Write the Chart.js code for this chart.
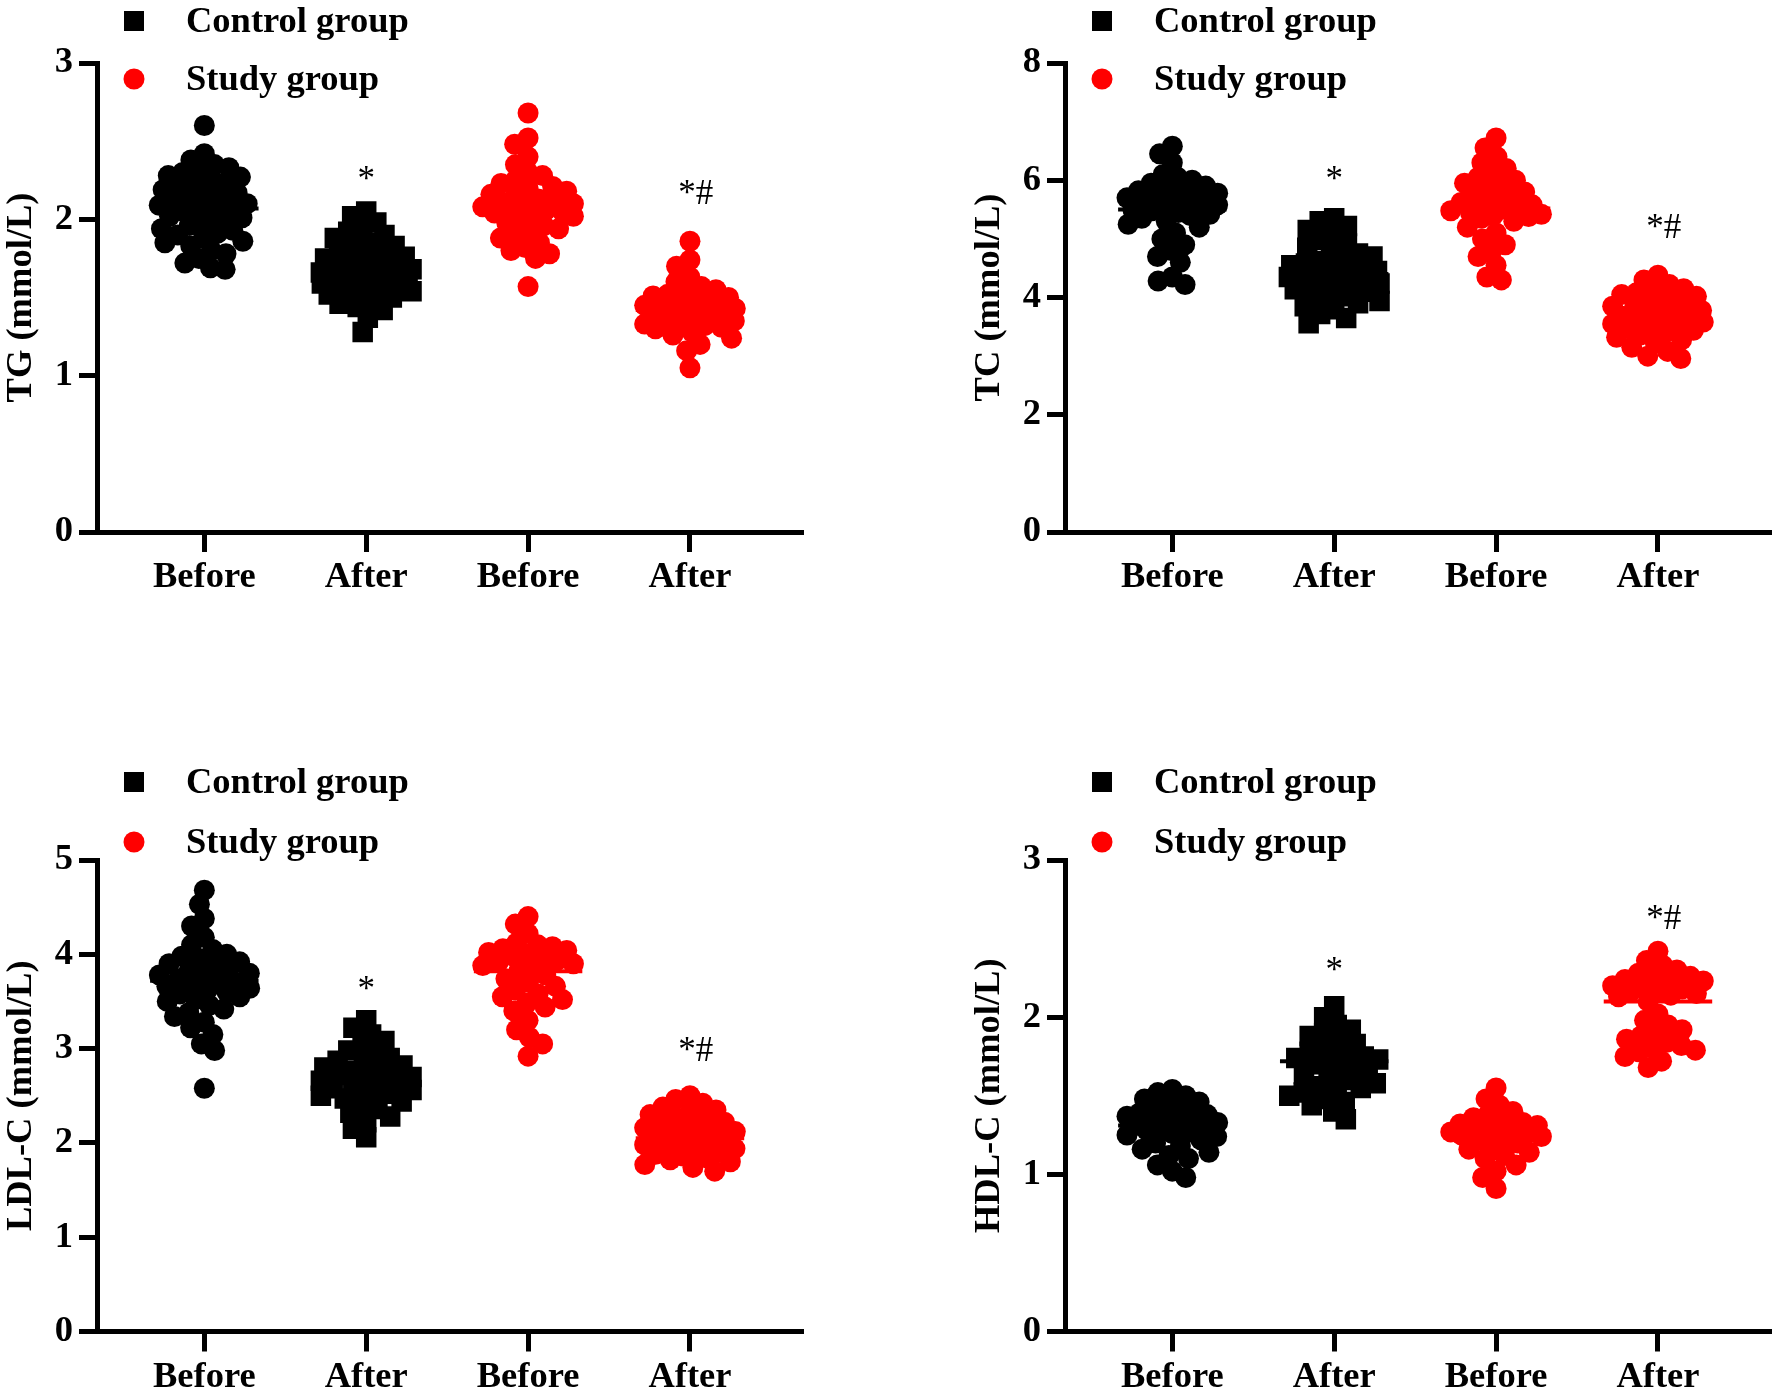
<!DOCTYPE html>
<html>
<head>
<meta charset="utf-8">
<script src="https://cdn.jsdelivr.net/npm/chart.js@4.4.0/dist/chart.umd.min.js"></script>
<style>
html,body{margin:0;padding:0;background:#fff;width:1784px;height:1394px;overflow:hidden;position:relative}
canvas{position:absolute}
</style>
</head>
<body>
<canvas id="pTG" width="816" height="697" style="left:0px;top:0px"></canvas>
<canvas id="pTC" width="816" height="697" style="left:968px;top:0px"></canvas>
<canvas id="pLDL" width="816" height="697" style="left:0px;top:697px"></canvas>
<canvas id="pHDL" width="816" height="697" style="left:968px;top:697px"></canvas>
<script>
// ---------- data ----------
const categories = ['Before', 'After', 'Before', 'After'];
const groupNames = ['Control group', 'Study group'];
const markLabels = ['*', '*#'];

// TG (mmol/L)
const tgControlBefore = [2.60,2.42,2.38,2.35,2.33,2.31,2.30,2.28,2.27,2.25,2.24,2.22,2.20,2.19,2.17,2.15,2.14,2.13,2.12,2.10,2.09,2.08,2.06,2.05,2.04,2.02,2.01,2.00,1.98,1.96,1.94,1.93,1.91,1.90,1.88,1.86,1.85,1.83,1.80,1.78,1.75,1.72,1.69,1.68];
const tgControlAfter = [2.05,2.02,1.98,1.95,1.92,1.90,1.88,1.85,1.83,1.80,1.79,1.78,1.76,1.75,1.73,1.72,1.70,1.69,1.68,1.67,1.66,1.65,1.64,1.63,1.62,1.62,1.61,1.60,1.60,1.59,1.58,1.57,1.56,1.55,1.54,1.53,1.52,1.50,1.48,1.46,1.44,1.42,1.37,1.28];
const tgStudyBefore = [2.68,2.52,2.48,2.40,2.35,2.30,2.28,2.25,2.23,2.21,2.20,2.18,2.16,2.15,2.13,2.12,2.11,2.10,2.09,2.08,2.07,2.06,2.05,2.04,2.03,2.02,2.00,1.98,1.96,1.94,1.92,1.90,1.88,1.85,1.82,1.80,1.78,1.75,1.57];
const tgStudyAfter = [1.86,1.74,1.70,1.63,1.60,1.57,1.55,1.53,1.52,1.51,1.50,1.49,1.48,1.47,1.46,1.45,1.44,1.43,1.42,1.42,1.41,1.40,1.39,1.38,1.37,1.36,1.35,1.34,1.33,1.32,1.31,1.30,1.28,1.26,1.24,1.20,1.16,1.05];
const tgMeans = [2.07, 1.64, 2.09, 1.42];
const tgTicks = [0, 1, 2, 3];
const tgMarkValues = [2.245, 2.16];

// TC (mmol/L)
const tcControlBefore = [6.58,6.45,6.30,6.10,6.05,6.00,5.95,5.90,5.85,5.82,5.80,5.78,5.75,5.72,5.70,5.68,5.65,5.62,5.60,5.58,5.55,5.52,5.50,5.48,5.45,5.42,5.40,5.35,5.30,5.25,5.20,5.10,5.00,4.90,4.80,4.70,4.60,4.35,4.28,4.22];
const tcControlAfter = [5.35,5.30,5.22,5.15,5.05,4.98,4.92,4.85,4.80,4.75,4.70,4.66,4.62,4.58,4.55,4.52,4.48,4.45,4.42,4.40,4.38,4.35,4.32,4.30,4.27,4.24,4.20,4.17,4.14,4.10,4.06,4.02,3.98,3.94,3.90,3.85,3.80,3.72,3.65,3.56];
const tcStudyBefore = [6.72,6.55,6.40,6.30,6.20,6.10,6.05,6.00,5.95,5.90,5.85,5.80,5.75,5.70,5.65,5.62,5.58,5.55,5.52,5.50,5.48,5.45,5.42,5.40,5.38,5.35,5.30,5.20,5.10,5.00,4.90,4.80,4.70,4.55,4.35,4.30];
const tcStudyAfter = [4.38,4.30,4.22,4.15,4.12,4.08,4.05,4.02,3.98,3.95,3.92,3.88,3.85,3.82,3.78,3.75,3.72,3.68,3.65,3.62,3.60,3.58,3.55,3.52,3.50,3.47,3.44,3.40,3.36,3.32,3.28,3.22,3.15,3.08,3.00,2.96];
const tcMeans = [5.50, 4.40, 5.52, 3.62];
const tcTicks = [0, 2, 4, 6, 8];
const tcMarkValues = [5.99, 5.18];

// LDL-C (mmol/L)
const ldlControlBefore = [4.68,4.53,4.38,4.30,4.18,4.10,4.05,4.00,3.98,3.95,3.92,3.90,3.87,3.85,3.82,3.80,3.78,3.76,3.74,3.72,3.70,3.68,3.66,3.64,3.62,3.60,3.58,3.55,3.52,3.50,3.46,3.42,3.38,3.34,3.28,3.22,3.15,3.05,2.98,2.58];
const ldlControlAfter = [3.30,3.22,3.15,3.08,3.02,2.98,2.94,2.90,2.87,2.84,2.82,2.80,2.78,2.76,2.74,2.72,2.70,2.68,2.66,2.64,2.62,2.60,2.58,2.56,2.54,2.52,2.50,2.47,2.44,2.40,2.36,2.32,2.28,2.22,2.15,2.06];
const ldlStudyBefore = [4.40,4.32,4.22,4.12,4.10,4.08,4.06,4.04,4.02,4.00,3.98,3.96,3.94,3.92,3.90,3.88,3.86,3.82,3.78,3.74,3.70,3.66,3.62,3.58,3.55,3.52,3.48,3.44,3.40,3.30,3.20,3.12,3.05,2.92];
const ldlStudyAfter = [2.50,2.46,2.42,2.38,2.35,2.32,2.30,2.27,2.24,2.22,2.20,2.18,2.16,2.14,2.12,2.10,2.08,2.06,2.04,2.02,2.00,1.98,1.96,1.94,1.92,1.90,1.88,1.86,1.84,1.82,1.80,1.77,1.74,1.70];
const ldlMeans = [3.72, 2.67, 3.82, 2.05];
const ldlTicks = [0, 1, 2, 3, 4, 5];
const ldlMarkValues = [3.61, 2.97];

// HDL-C (mmol/L)
const hdlControlBefore = [1.54,1.52,1.50,1.48,1.46,1.44,1.42,1.40,1.39,1.38,1.37,1.36,1.35,1.34,1.33,1.32,1.31,1.30,1.29,1.28,1.27,1.26,1.25,1.24,1.22,1.20,1.18,1.16,1.14,1.12,1.10,1.06,1.02,0.98];
const hdlControlAfter = [2.07,2.00,1.95,1.92,1.90,1.88,1.85,1.83,1.80,1.78,1.76,1.75,1.74,1.73,1.72,1.71,1.70,1.68,1.66,1.64,1.62,1.60,1.58,1.56,1.55,1.54,1.52,1.50,1.48,1.46,1.44,1.40,1.35];
const hdlStudyBefore = [1.55,1.48,1.44,1.40,1.38,1.36,1.34,1.33,1.32,1.31,1.30,1.29,1.28,1.27,1.27,1.26,1.25,1.24,1.23,1.22,1.20,1.18,1.16,1.14,1.12,1.10,1.06,1.02,0.98,0.91];
const hdlStudyAfter = [2.42,2.36,2.33,2.30,2.28,2.26,2.25,2.24,2.23,2.22,2.20,2.19,2.18,2.17,2.16,2.15,2.14,2.13,2.10,2.02,1.98,1.95,1.92,1.90,1.88,1.86,1.84,1.82,1.80,1.79,1.78,1.75,1.72,1.68];
const hdlMeans = [1.31, 1.72, 1.27, 2.10];
const hdlTicks = [0, 1, 2, 3];
const hdlMarkValues = [2.29, 2.62];

// ---------- styling / layout ----------
const BLACK = '#000000';
const RED = '#ff0000';
const FONT = '"Liberation Serif", "Times New Roman", serif';
const FONT_SIZE = 36.5;
const groupStyles = [
  {color: BLACK, style: 'circle', radius: 10.5},
  {color: BLACK, style: 'rect', radius: 14.5},
  {color: RED, style: 'circle', radius: 10.5},
  {color: RED, style: 'circle', radius: 10.5}
];
const X_MIN = -0.663, X_MAX = 3.689;
const AXIS_W = 97;
const PX_PER_X = 164.3;
const SWARM_DIST = 15;
const SWARM_CAP = 46;
const MEAN_HALF = 0.335;
const MARK_DX = [0, 0.035];

function swarmOffsets(values, pxPerY, d, cap) {
  const order = values.map((v, i) => i).sort((a, b) => values[b] - values[a]);
  const placed = [];
  const off = new Array(values.length).fill(0);
  for (const i of order) {
    const yp = values[i] * pxPerY;
    const near = placed.filter(p => Math.abs(p.y - yp) < d);
    const valid = c => near.every(p => (p.x - c) * (p.x - c) + (p.y - yp) * (p.y - yp) >= d * d - 1e-6);
    const cands = [0];
    near.forEach(p => {
      const dx = Math.sqrt(d * d - (p.y - yp) * (p.y - yp));
      cands.push(p.x + dx, p.x - dx);
    });
    cands.sort((a, b) => Math.abs(a) - Math.abs(b) || a - b);
    let chosen = null;
    for (const c of cands) {
      if (Math.abs(c) <= cap + 1e-9 && valid(c)) { chosen = c; break; }
    }
    if (chosen === null) {
      let best = -1;
      chosen = 0;
      for (let c = -cap; c <= cap + 1e-9; c += 1) {
        const md = Math.min(...near.map(p => Math.hypot(p.x - c, p.y - yp)));
        if (md > best + 1e-9 || (Math.abs(md - best) <= 1e-9 && Math.abs(c) < Math.abs(chosen))) { best = md; chosen = c; }
      }
    }
    placed.push({x: chosen, y: yp});
    off[i] = chosen;
  }
  return off.map(o => o / PX_PER_X);
}

const legendPlugin = {
  id: 'groupLegend',
  afterDraw(chart, args, o) {
    const ctx = chart.ctx;
    ctx.save();
    ctx.fillStyle = BLACK;
    ctx.fillRect(o.mx - 10, o.y1 - 10, 20, 20);
    ctx.fillStyle = RED;
    ctx.beginPath(); ctx.arc(o.mx, o.y2, 10.5, 0, Math.PI * 2); ctx.fill();
    ctx.fillStyle = BLACK;
    ctx.font = 'bold ' + FONT_SIZE + 'px ' + FONT;
    ctx.textAlign = 'left';
    ctx.textBaseline = 'middle';
    ctx.fillText(groupNames[0], o.tx, o.y1 + 2);
    ctx.fillText(groupNames[1], o.tx, o.y2 + 2);
    ctx.restore();
  }
};

const markPlugin = {
  id: 'sigMarks',
  afterDatasetsDraw(chart, args, o) {
    const ctx = chart.ctx, xs = chart.scales.x, ys = chart.scales.y;
    ctx.save();
    ctx.fillStyle = BLACK;
    ctx.font = '35px ' + FONT;
    ctx.textAlign = 'center';
    ctx.textBaseline = 'middle';
    o.items.forEach(it => ctx.fillText(it.text, xs.getPixelForValue(it.x), ys.getPixelForValue(it.y)));
    ctx.restore();
  }
};

function makePanel(id, title, groups, means, ticks, markValues, padTop, areaBottom, legendY1, legendY2) {
  const canvas = document.getElementById(id);
  const H = canvas.height;
  const ymax = ticks[ticks.length - 1];
  const pxPerY = (areaBottom - padTop) / ymax;
  const datasets = [];
  groups.forEach((vals, gi) => {
    const offs = swarmOffsets(vals, pxPerY, SWARM_DIST, SWARM_CAP);
    const st = groupStyles[gi];
    datasets.push({
      type: 'scatter',
      data: vals.map((v, i) => ({x: gi + offs[i], y: v})),
      pointStyle: st.style,
      pointRadius: st.radius,
      pointHoverRadius: st.radius,
      backgroundColor: st.color,
      borderWidth: 0,
      order: 2
    });
  });
  means.forEach((m, gi) => {
    datasets.push({
      type: 'line',
      data: [{x: gi - MEAN_HALF, y: m}, {x: gi + MEAN_HALF, y: m}],
      borderColor: groupStyles[gi].color,
      borderWidth: 4,
      pointRadius: 0,
      showLine: true,
      fill: false,
      order: 1
    });
  });
  const tickFont = {family: FONT, weight: 'bold', size: FONT_SIZE};
  return new Chart(canvas, {
    type: 'scatter',
    data: {datasets},
    plugins: [legendPlugin, markPlugin],
    options: {
      responsive: false,
      animation: false,
      devicePixelRatio: 1,
      layout: {padding: {top: padTop, right: 4, left: 0, bottom: 0}},
      plugins: {
        legend: {display: false},
        tooltip: {enabled: false},
        groupLegend: {mx: 134, tx: 186, y1: legendY1, y2: legendY2},
        sigMarks: {items: [
          {text: markLabels[0], x: 1 + MARK_DX[0], y: markValues[0]},
          {text: markLabels[1], x: 3 + MARK_DX[1], y: markValues[1]}
        ]}
      },
      scales: {
        x: {
          type: 'linear', min: X_MIN, max: X_MAX,
          afterBuildTicks: ax => { ax.ticks = categories.map((c, i) => ({value: i})); },
          afterFit: ax => { ax.height = H - areaBottom; },
          border: {display: true, color: BLACK, width: 5},
          grid: {display: true, drawOnChartArea: false, drawTicks: true, tickLength: 20, tickWidth: 5, lineWidth: 5, color: BLACK},
          ticks: {color: BLACK, font: tickFont, padding: 4, maxRotation: 0, autoSkip: false,
                  callback: v => categories[Math.round(v)]}
        },
        y: {
          type: 'linear', min: 0, max: ymax,
          afterBuildTicks: ax => { ax.ticks = ticks.map(v => ({value: v})); },
          afterFit: ax => { ax.width = AXIS_W; },
          border: {display: true, color: BLACK, width: 5},
          grid: {display: true, drawOnChartArea: false, drawTicks: true, tickLength: 18, tickWidth: 5, lineWidth: 5, color: BLACK},
          ticks: {color: BLACK, font: tickFont, padding: 6},
          title: {display: true, text: title, color: BLACK, font: tickFont, padding: 0}
        }
      }
    }
  });
}

makePanel('pTG', 'TG (mmol/L)', [tgControlBefore, tgControlAfter, tgStudyBefore, tgStudyAfter], tgMeans, tgTicks, tgMarkValues, 63, 532, 21, 79);
makePanel('pTC', 'TC (mmol/L)', [tcControlBefore, tcControlAfter, tcStudyBefore, tcStudyAfter], tcMeans, tcTicks, tcMarkValues, 63, 532, 21, 79);
makePanel('pLDL', 'LDL-C (mmol/L)', [ldlControlBefore, ldlControlAfter, ldlStudyBefore, ldlStudyAfter], ldlMeans, ldlTicks, ldlMarkValues, 163, 634.5, 85, 145);
makePanel('pHDL', 'HDL-C (mmol/L)', [hdlControlBefore, hdlControlAfter, hdlStudyBefore, hdlStudyAfter], hdlMeans, hdlTicks, hdlMarkValues, 163, 634.5, 85, 145);
</script>
</body>
</html>
